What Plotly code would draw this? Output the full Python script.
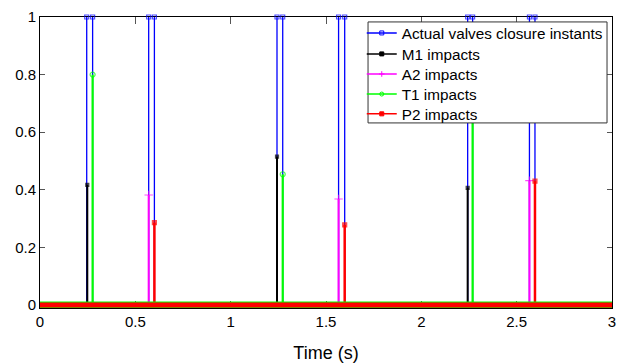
import plotly.graph_objects as go

# ---- data ----
time_range = [0.0, 3.0]
valve_t = [0.245, 0.276, 0.570, 0.600, 1.243, 1.273, 1.566, 1.598, 2.243, 2.269, 2.567, 2.596]
valve_v = [1, 1, 1, 1, 1, 1, 1, 1, 1, 1, 1, 1]
m1_t = [0.248, 1.243, 2.243]
m1_v = [0.417, 0.515, 0.407]
a2_t = [0.570, 1.566, 2.567]
a2_v = [0.382, 0.368, 0.432]
t1_t = [0.276, 1.273, 2.269]
t1_v = [0.80, 0.454, 0.72]
p2_t = [0.600, 1.598, 2.596]
p2_v = [0.286, 0.278, 0.430]
baseline_v = [0, 0]
x_ticks = [0, 0.5, 1, 1.5, 2, 2.5, 3]
y_ticks = [0, 0.2, 0.4, 0.6, 0.8, 1]

FONT = "Liberation Sans, Arial, Helvetica, sans-serif"

series = [
    ("Actual valves closure instants", valve_t, valve_v, "#0000FF", "square-open", 4, 1.3),
    ("M1 impacts", m1_t, m1_v, "#000000", "square", 3, 2),
    ("A2 impacts", a2_t, a2_v, "#FF00FF", "cross-thin-open", 6, 2),
    ("T1 impacts", t1_t, t1_v, "#00FF00", "circle-open", 5, 2.2),
    ("P2 impacts", p2_t, p2_v, "#FF0000", "square", 4, 2.5),
]

fig = go.Figure()

for name, ts, vs, col, sym, msz, lw in series:
    xs, ys, sizes = [], [], []
    for t, v in zip(ts, vs):
        xs += [t, t, None]
        ys += [0, v, None]
        sizes += [0, msz, 0]
    fig.add_trace(go.Scatter(
        x=xs, y=ys, mode="lines+markers", showlegend=False, cliponaxis=False,
        line=dict(color=col, width=lw),
        marker=dict(symbol=sym, size=sizes, color=col, line=dict(color=col, width=1.2)),
        hoverinfo="skip"))

# zero level of the signals: thick green-edged red band over the x axis
fig.add_trace(go.Scatter(x=time_range, y=baseline_v, mode="lines", showlegend=False,
                         hoverinfo="skip", line=dict(color="#00FF00", width=7)))
fig.add_trace(go.Scatter(x=time_range, y=baseline_v, mode="lines", showlegend=False,
                         hoverinfo="skip", line=dict(color="#FF0000", width=5)))

# legend box
fig.add_shape(type="rect", xref="paper", yref="paper", x0=0.5735, x1=0.9913,
              y0=0.636, y1=0.983, layer="above", fillcolor="white",
              line=dict(color="#333333", width=1))

# legend entries, one legend per row for tight MATLAB-like spacing
row_y = [0.945, 0.873, 0.804, 0.735, 0.667]
legend_names = ["legend", "legend2", "legend3", "legend4", "legend5"]
layout_legends = {}
for (name, ts, vs, col, sym, msz, lw), ry, lg in zip(series, row_y, legend_names):
    fig.add_trace(go.Scatter(
        x=[None], y=[None], mode="lines+markers", name=name, legend=lg,
        line=dict(color=col, width=1.5),
        marker=dict(symbol=sym, size=4, color=col, line=dict(color=col, width=1))))
    layout_legends[lg] = dict(x=0.5625, y=ry, xanchor="left", yanchor="middle",
                              bgcolor="rgba(0,0,0,0)", borderwidth=0,
                              font=dict(family=FONT, size=15.3, color="black"),
                              itemwidth=30)

axis_common = dict(
    showgrid=False, zeroline=False, showline=True, linecolor="black", linewidth=1,
    mirror="ticks", ticks="inside", tickcolor="#555555", layer="below traces",
    tickfont=dict(family=FONT, size=15, color="black"),
)

fig.update_xaxes(range=time_range, tickvals=x_ticks, ticktext=[f"{v:g}" for v in x_ticks],
                 ticklen=7,
                 title=dict(text="Time (s)", font=dict(family=FONT, size=18, color="black"),
                            standoff=17),
                 automargin=False, **axis_common)
fig.update_yaxes(range=[-0.0104, 1], tickvals=y_ticks, ticktext=[f"{v:g}" for v in y_ticks],
                 ticklen=5, automargin=False, **axis_common)

fig.update_layout(
    width=620, height=364,
    margin=dict(l=40, r=8, t=17, b=56),
    paper_bgcolor="white", plot_bgcolor="white",
    font=dict(family=FONT, size=15, color="black"),
    **layout_legends,
)

fig.write_html("out.html")
